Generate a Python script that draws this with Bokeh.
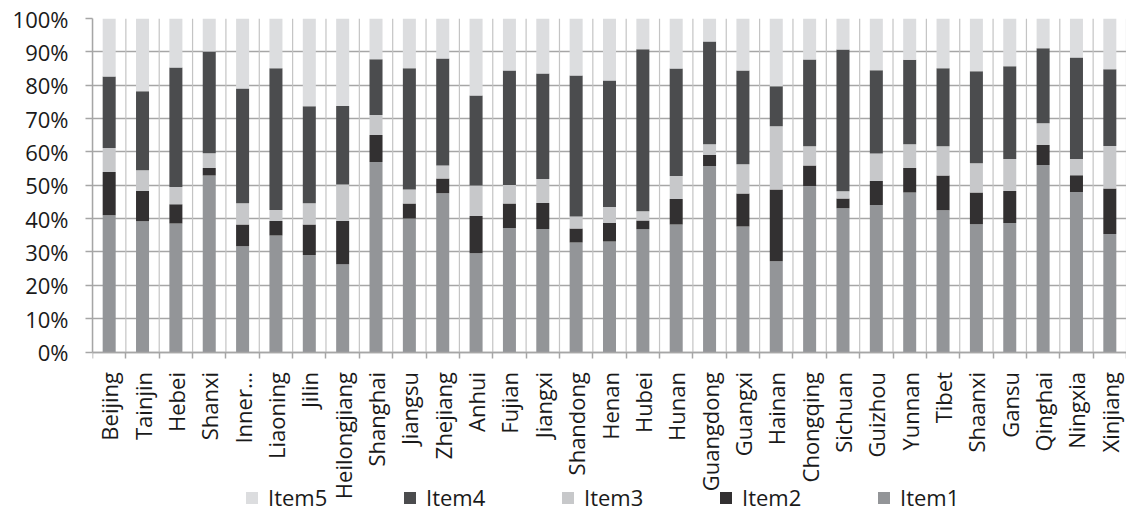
from bokeh.plotting import figure
from bokeh.models import FixedTicker, Legend, LegendItem, Range1d, ColumnDataSource
from bokeh.embed import file_html
from bokeh.resources import INLINE

provinces = ["Beijing", "Tainjin", "Hebei", "Shanxi", "Inner…", "Liaoning", "Jilin",
             "Heilongjiang", "Shanghai", "Jiangsu", "Zhejiang", "Anhui", "Fujian",
             "Jiangxi", "Shandong", "Henan", "Hubei", "Hunan", "Guangdong", "Guangxi",
             "Hainan", "Chongqing", "Sichuan", "Guizhou", "Yunnan", "Tibet", "Shaanxi",
             "Gansu", "Qinghai", "Ningxia", "Xinjiang"]

item1 = [41.0, 39.2, 38.5, 52.9, 31.7, 34.9, 29.1, 26.3, 57.0, 40.0, 47.6, 29.6, 37.2,
         36.9, 32.8, 33.1, 36.8, 38.2, 55.8, 37.6, 27.2, 49.8, 43.1, 44.1, 47.8, 42.5,
         38.3, 38.7, 56.1, 48.0, 35.4]
item2 = [13.0, 9.1, 5.8, 2.3, 6.5, 4.4, 9.1, 13.0, 8.1, 4.5, 4.4, 11.2, 7.3,
         7.8, 4.2, 5.6, 2.6, 7.7, 3.3, 9.9, 21.5, 6.1, 2.9, 7.2, 7.4, 10.4,
         9.5, 9.6, 6.0, 5.0, 13.6]
item3 = [7.2, 6.2, 5.2, 4.4, 6.4, 3.3, 6.4, 10.9, 6.0, 4.2, 3.9, 9.1, 5.6,
         7.2, 3.6, 4.8, 2.8, 6.9, 3.2, 8.8, 19.0, 5.8, 2.2, 8.2, 7.1, 8.8,
         8.8, 9.6, 6.5, 4.9, 12.8]
item4 = [21.4, 23.7, 35.8, 30.5, 34.4, 42.5, 29.1, 23.6, 16.7, 36.4, 32.1, 27.0, 34.3,
         31.6, 42.3, 37.9, 48.6, 32.2, 30.8, 28.1, 12.0, 26.0, 42.5, 25.0, 25.3, 23.4,
         27.6, 27.8, 22.5, 30.4, 23.0]
item5 = [17.4, 21.8, 14.7, 9.9, 21.0, 14.9, 26.3, 26.2, 12.2, 14.9, 12.0, 23.1, 15.6,
         16.5, 17.1, 18.6, 9.2, 15.0, 6.9, 15.6, 20.3, 12.3, 9.3, 15.5, 12.4, 14.9,
         15.8, 14.3, 8.9, 11.7, 15.2]

series_names = ["Item1", "Item2", "Item3", "Item4", "Item5"]
series_colors = ["#939598", "#323031", "#c7c8ca", "#4b4c4e", "#dcdddf"]
y_ticks = list(range(0, 101, 10))

n = len(provinces)
centers = [i + 0.5 for i in range(n)]
boundaries = list(range(n + 1))
data = {"x": centers, "Item1": item1, "Item2": item2, "Item3": item3,
        "Item4": item4, "Item5": item5}
source = ColumnDataSource(data)

FONT = "Open Sans"
GRID = "#a6a6a6"

W, H = 1126, 512
LEFT, TOP = 92, 18
# frame reaches the canvas bottom so the legend can sit over the label area
FRAME_H = H - TOP
PX_PER_PCT = 3.335
y_min = 100 - FRAME_H / PX_PER_PCT

p = figure(width=W, height=H, output_backend="svg", title=None,
           toolbar_location=None, x_range=Range1d(0, n), y_range=Range1d(y_min, 100),
           min_border=0, min_border_left=LEFT, min_border_top=TOP, min_border_right=0,
           min_border_bottom=0)
p.outline_line_color = None

# vertical category gridlines (0%..100%)
p.segment(x0=boundaries, y0=[0] * len(boundaries), x1=boundaries,
          y1=[100] * len(boundaries), line_color="#c4c4c4", line_width=1.2)

renderers = p.vbar_stack(series_names, x="x", width=0.39, source=source,
                         color=series_colors, line_color=None)

# y axis
p.yaxis.ticker = FixedTicker(ticks=y_ticks)
p.yaxis.bounds = (0, 100)
p.yaxis.major_label_overrides = {t: f"{t}%" for t in y_ticks}
p.yaxis.major_label_text_font = FONT
p.yaxis.major_label_text_font_size = "22px"
p.yaxis.major_label_text_color = "#1a1a1a"
p.yaxis.axis_line_color = GRID
p.yaxis.axis_line_width = 1.5
p.yaxis.major_tick_line_color = GRID
p.yaxis.major_tick_line_width = 1.5
p.yaxis.major_tick_out = 7
p.yaxis.major_tick_in = 0
p.yaxis.minor_tick_line_color = None
p.yaxis.major_label_standoff = 17

# x axis drawn at 0% inside the frame
xa = p.xaxis[0]
xa.fixed_location = 0
xa.ticker = FixedTicker(ticks=centers, minor_ticks=boundaries)
xa.major_label_overrides = {c: name for c, name in zip(centers, provinces)}
xa.major_label_orientation = 1.5708
xa.major_label_text_font = FONT
xa.major_label_text_font_size = "22px"
xa.major_label_text_color = "#1a1a1a"
xa.major_tick_line_color = None
xa.minor_tick_line_color = GRID
xa.minor_tick_line_width = 1.5
xa.minor_tick_out = 6
xa.minor_tick_in = 0
xa.axis_line_color = GRID
xa.axis_line_width = 1.5
xa.major_label_standoff = 14

# grids
p.ygrid.grid_line_color = GRID
p.ygrid.grid_line_width = 1.5
p.xgrid.visible = False

# legend (Item5 ... Item1)
items = [LegendItem(label=name, renderers=[r]) for name, r in zip(series_names, renderers)]
items = items[::-1]
legend = Legend(items=items, orientation="horizontal", location=(152, 0),
                label_text_font=FONT, label_text_font_size="22px",
                label_text_color="#1a1a1a", glyph_width=15, glyph_height=15,
                label_width=134, spacing=0, padding=0, margin=0,
                label_standoff=9, border_line_color=None,
                background_fill_alpha=0)
p.add_layout(legend, "center")

open("out.html", "w").write(file_html(p, INLINE))
